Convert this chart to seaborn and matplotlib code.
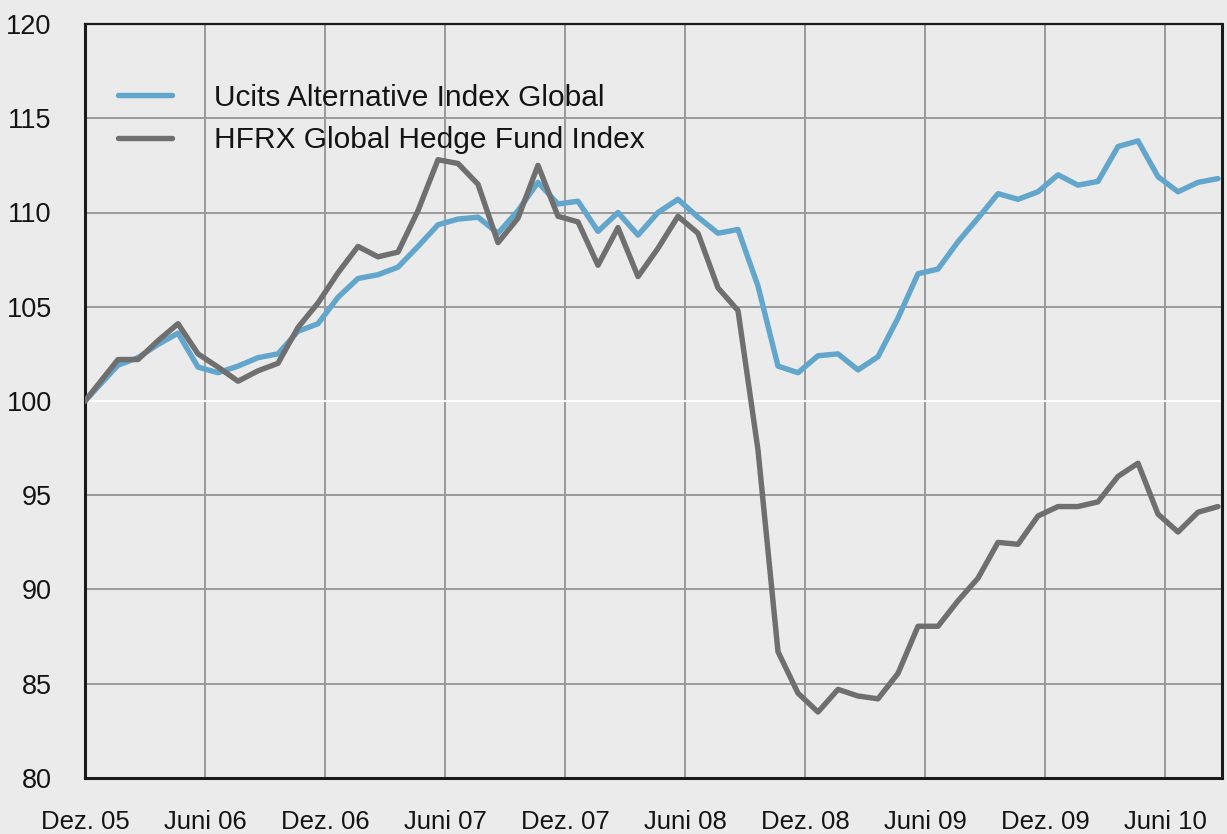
import numpy as np
import pandas as pd
import matplotlib
matplotlib.use("Agg")
import matplotlib.pyplot as plt
import seaborn as sns

# month offsets from Dez. 05 (first value is the index base)
months = [0.0] + [1.65 + k for k in range(56)]

ucits = [100.0,
         101.9, 102.3, 103.0, 103.6, 101.8, 101.5, 101.85, 102.3, 102.5, 103.7,
         104.1, 105.5, 106.5, 106.7, 107.1, 108.2, 109.35, 109.65, 109.75, 108.9,
         110.1, 111.6, 110.45, 110.6, 109.0, 110.0, 108.8, 110.0, 110.7, 109.75,
         108.9, 109.1, 106.1, 101.85, 101.5, 102.4, 102.5, 101.65, 102.35, 104.4,
         106.75, 107.0, 108.45, 109.7, 111.0, 110.7, 111.1, 112.0, 111.45, 111.65,
         113.5, 113.8, 111.9, 111.1, 111.6, 111.8]

hfrx = [100.0,
        102.2, 102.2, 103.2, 104.1, 102.5, 101.8, 101.05, 101.6, 102.0, 103.9,
        105.2, 106.8, 108.2, 107.65, 107.9, 110.1, 112.8, 112.6, 111.5, 108.4,
        109.7, 112.5, 109.8, 109.5, 107.2, 109.2, 106.6, 108.1, 109.8, 108.9,
        106.0, 104.8, 97.4, 86.7, 84.5, 83.5, 84.7, 84.35, 84.2, 85.55,
        88.05, 88.05, 89.4, 90.6, 92.5, 92.4, 93.9, 94.4, 94.4, 94.65,
        96.0, 96.7, 94.0, 93.05, 94.1, 94.4]

series_names = ["Ucits Alternative Index Global", "HFRX Global Hedge Fund Index"]
tick_pos = [0, 6, 12, 18, 24, 30, 36, 42, 48, 54]
tick_labels = ["Dez. 05", "Juni 06", "Dez. 06", "Juni 07", "Dez. 07",
               "Juni 08", "Dez. 08", "Juni 09", "Dez. 09", "Juni 10"]
y_ticks = [80, 85, 90, 95, 100, 105, 110, 115, 120]

df = pd.DataFrame({
    "month": months * 2,
    "value": ucits + hfrx,
    "series": [series_names[0]] * len(months) + [series_names[1]] * len(months),
})

sns.set_theme(style="white")
plt.rcParams["font.family"] = ["Liberation Sans", "DejaVu Sans"]

bg = "#ebebeb"
txt = "#141414"
fig = plt.figure(figsize=(12.27, 8.34), dpi=100, facecolor=bg)
ax = fig.add_axes([85 / 1227, (834 - 778) / 834, (1222 - 85) / 1227, (778 - 24) / 834])
ax.set_facecolor(bg)

palette = {series_names[0]: "#63a6cc", series_names[1]: "#6f6f6f"}
sns.lineplot(data=df, x="month", y="value", hue="series", palette=palette,
             linewidth=3.9, ax=ax, legend=True, sort=False, zorder=3)

ax.set_xlim(0, 56.85)
ax.set_ylim(80, 120)
ax.set_xticks(tick_pos)
ax.set_xticklabels(tick_labels, fontsize=18.5)
ax.set_yticks(y_ticks)
ax.set_yticklabels([str(v) for v in y_ticks], fontsize=19.5)
ax.tick_params(axis="x", length=0, pad=23, colors=txt)
ax.tick_params(axis="y", length=0, pad=24, colors=txt)
ax.set_xlabel("")
ax.set_ylabel("")

ax.grid(True, color="#9a9a9a", linewidth=1.4, zorder=1)
for gl, v in zip(ax.get_ygridlines(), y_ticks):
    if v == 100:
        gl.set_color("white")

for side in ["left", "bottom", "top", "right"]:
    ax.spines[side].set_visible(True)
    ax.spines[side].set_color("#1a1a1a")
ax.spines["left"].set_linewidth(2.2)
ax.spines["bottom"].set_linewidth(2.2)
ax.spines["top"].set_linewidth(1.6)
ax.spines["right"].set_linewidth(2.2)

leg = ax.legend(loc="upper left", bbox_to_anchor=(0.029, 0.921), frameon=False,
                borderpad=0, borderaxespad=0,
                fontsize=21.5, handlelength=1.8, handletextpad=1.4,
                labelspacing=0.5)
for t in leg.get_texts():
    t.set_color(txt)
for line in leg.get_lines():
    line.set_linewidth(3.9)
    line.set_solid_capstyle("round")

fig.savefig("out.png", dpi=100, facecolor=bg)
